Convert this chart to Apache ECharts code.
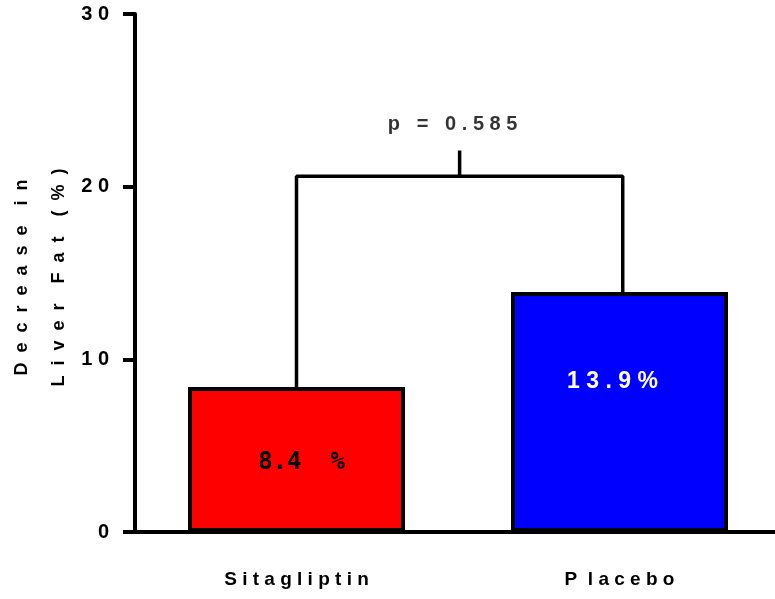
<!DOCTYPE html>
<html>
<head>
<meta charset="utf-8">
<script src="https://cdn.jsdelivr.net/npm/echarts@6/dist/echarts.min.js"></script>
<style>html,body{margin:0;padding:0;background:#fff;}#c{width:775px;height:599px;}</style>
</head>
<body>
<div id="c"></div>
<script>
// ---- data ----
const categories = ['S i t a g l i p t i n', 'P  l a c e b o'];
const values = [8.4, 13.9];
const barColors = ['#ff0000', '#0000ff'];
const barLabels = ['8.4  %', '1 3 . 9 %'];
const yTicks = [0, 10, 20, 30];
const bracketX = [0, 1.01];
const bracketY = 20.6;
const pTickTop = 22.1;
const pText = 'p   =   0 . 5 8 5';
const yName = 'D  e  c  r  e  a  s  e    i  n\nL  i  v  e  r    F  a  t    (  %  )';

// ---- build ----
const chart = echarts.init(document.getElementById('c'));
const labelStyles = [
  { color: '#000', fontFamily: 'DejaVu Sans Mono', fontWeight: 'bold', fontSize: 24, offset: [5, 3] },
  { color: '#fff', fontFamily: 'Liberation Sans', fontWeight: 'bold', fontSize: 23, offset: [-7, -30] }
];
const barData = values.map((v, i) => ({
  value: v,
  itemStyle: { color: barColors[i], borderColor: '#000', borderWidth: 4 },
  label: Object.assign({ show: true, position: 'inside', formatter: barLabels[i] }, labelStyles[i])
}));
const midX = (bracketX[0] + bracketX[1]) / 2;

chart.setOption({
  animation: false,
  grid: { left: 135, top: 14, width: 646, height: 518, containLabel: false, outerBoundsMode: 'none' },
  xAxis: [
    {
      type: 'category', data: categories,
      axisLine: { onZero: false, lineStyle: { color: '#000', width: 4 } },
      axisTick: { show: false },
      axisLabel: { margin: 38, color: '#000', fontFamily: 'Liberation Sans', fontWeight: 'bold', fontSize: 19 }
    },
    { type: 'value', min: -0.5, max: 1.5, show: false }
  ],
  yAxis: {
    type: 'value', min: yTicks[0], max: yTicks[yTicks.length - 1], interval: 10,
    splitLine: { show: false },
    axisLine: { show: true, onZero: false, lineStyle: { color: '#000', width: 4 } },
    axisTick: { show: true, length: 12, lineStyle: { color: '#000', width: 4 } },
    axisLabel: {
      margin: 26, color: '#000', fontFamily: 'Liberation Sans', fontWeight: 'bold', fontSize: 20,
      formatter: v => String(v).split('').join(' ')
    },
    name: yName, nameLocation: 'middle', nameRotate: 90, nameGap: 57, nameMoveOverlap: false,
    nameTextStyle: { color: '#000', fontFamily: 'Liberation Sans', fontWeight: 'bold', fontSize: 18, lineHeight: 37, padding: [0, 9, 0, 0] }
  },
  series: [
    { type: 'bar', data: barData, barWidth: 217, z: 2 },
    {
      type: 'line', xAxisIndex: 1, symbol: 'none', silent: true, z: 3,
      lineStyle: { color: '#000', width: 3.5 },
      data: [[bracketX[0], values[0]], [bracketX[0], bracketY], [bracketX[1], bracketY], [bracketX[1], values[1]]]
    },
    {
      type: 'line', xAxisIndex: 1, symbol: 'none', silent: true, z: 3,
      lineStyle: { color: '#000', width: 3.5 },
      data: [[midX, bracketY], [midX, pTickTop]]
    },
    {
      type: 'scatter', xAxisIndex: 1, symbolSize: 0, silent: true,
      data: [[midX, pTickTop]],
      label: {
        show: true, position: 'top', distance: 16, offset: [-7, 0], formatter: pText,
        color: '#000', fontFamily: 'Liberation Sans', fontWeight: 'bold', fontSize: 20
      }
    }
  ]
});
</script>
</body>
</html>
